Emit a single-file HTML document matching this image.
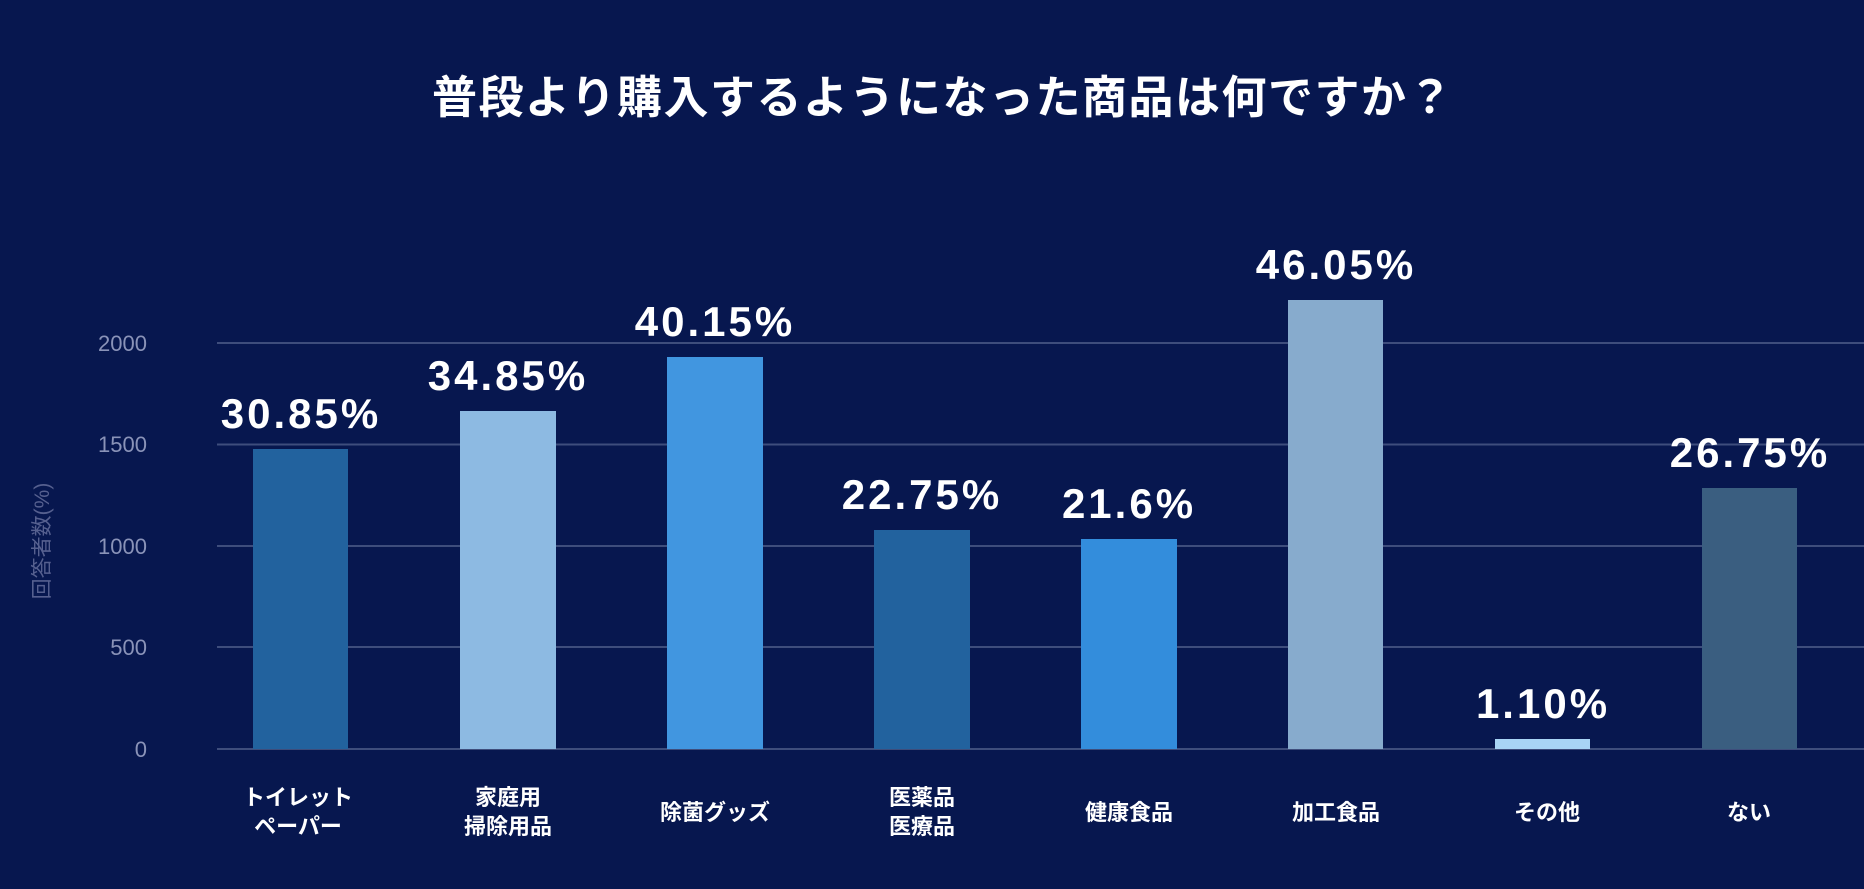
<!DOCTYPE html>
<html><head><meta charset="utf-8"><style>
html,body{margin:0;padding:0;background:#07174f;}
svg{display:block}
</style></head><body>
<svg width="1864" height="889" viewBox="0 0 1864 889" xmlns="http://www.w3.org/2000/svg">
<rect width="1864" height="889" fill="#07174f"/>
<text x="943" y="113" text-anchor="middle" fill="#fff" font-family="'Liberation Sans','Noto Sans CJK JP',sans-serif" font-weight="bold" font-size="45" letter-spacing="1.5">普段より購入するようになった商品は何ですか？</text>
<g stroke="#3e4d7c" stroke-width="2">
<line x1="217" y1="343" x2="1864" y2="343"/>
<line x1="217" y1="444.5" x2="1864" y2="444.5"/>
<line x1="217" y1="546" x2="1864" y2="546"/>
<line x1="217" y1="647" x2="1864" y2="647"/>
<line x1="217" y1="749" x2="1864" y2="749"/>
</g>
<g fill="#8a93b8" font-family="'Liberation Sans',sans-serif" font-size="22" text-anchor="end">
<text x="147" y="351">2000</text>
<text x="147" y="452">1500</text>
<text x="147" y="554">1000</text>
<text x="147" y="655">500</text>
<text x="147" y="757">0</text>
</g>
<text transform="translate(49,541) rotate(-90)" text-anchor="middle" fill="#56608f" font-family="'Liberation Sans','Noto Sans CJK JP',sans-serif" font-size="21">回答者数(%)</text>
<g>
<rect x="253" y="449" width="95" height="300" fill="#22629e"/>
<rect x="460" y="411" width="96" height="338" fill="#8dbae2"/>
<rect x="667" y="357" width="96" height="392" fill="#4196e0"/>
<rect x="874" y="530" width="96" height="219" fill="#22629e"/>
<rect x="1081" y="539" width="96" height="210" fill="#338ddc"/>
<rect x="1288" y="300" width="95" height="449" fill="#87abcd"/>
<rect x="1495" y="739" width="95" height="10" fill="#a8d4f5"/>
<rect x="1702" y="488" width="95" height="261" fill="#3a5e80"/>
</g>
<g fill="#fff" font-family="'Liberation Sans',sans-serif" font-weight="bold" font-size="42" text-anchor="middle" letter-spacing="3">
<text x="301" y="428">30.85%</text>
<text x="508" y="390">34.85%</text>
<text x="715" y="336">40.15%</text>
<text x="922" y="509">22.75%</text>
<text x="1129" y="518">21.6%</text>
<text x="1336" y="279">46.05%</text>
<text x="1543" y="718">1.10%</text>
<text x="1750" y="467">26.75%</text>
</g>
<g fill="#fff" font-family="'Liberation Sans','Noto Sans CJK JP',sans-serif" font-weight="bold" font-size="22" text-anchor="middle">
<text x="298" y="805">トイレット</text>
<text x="298" y="834">ペーパー</text>
<text x="508" y="805">家庭用</text>
<text x="508" y="834">掃除用品</text>
<text x="715" y="820">除菌グッズ</text>
<text x="922" y="805">医薬品</text>
<text x="922" y="834">医療品</text>
<text x="1129" y="820">健康食品</text>
<text x="1336" y="820">加工食品</text>
<text x="1547" y="820">その他</text>
<text x="1749" y="820">ない</text>
</g>
</svg>
</body></html>
